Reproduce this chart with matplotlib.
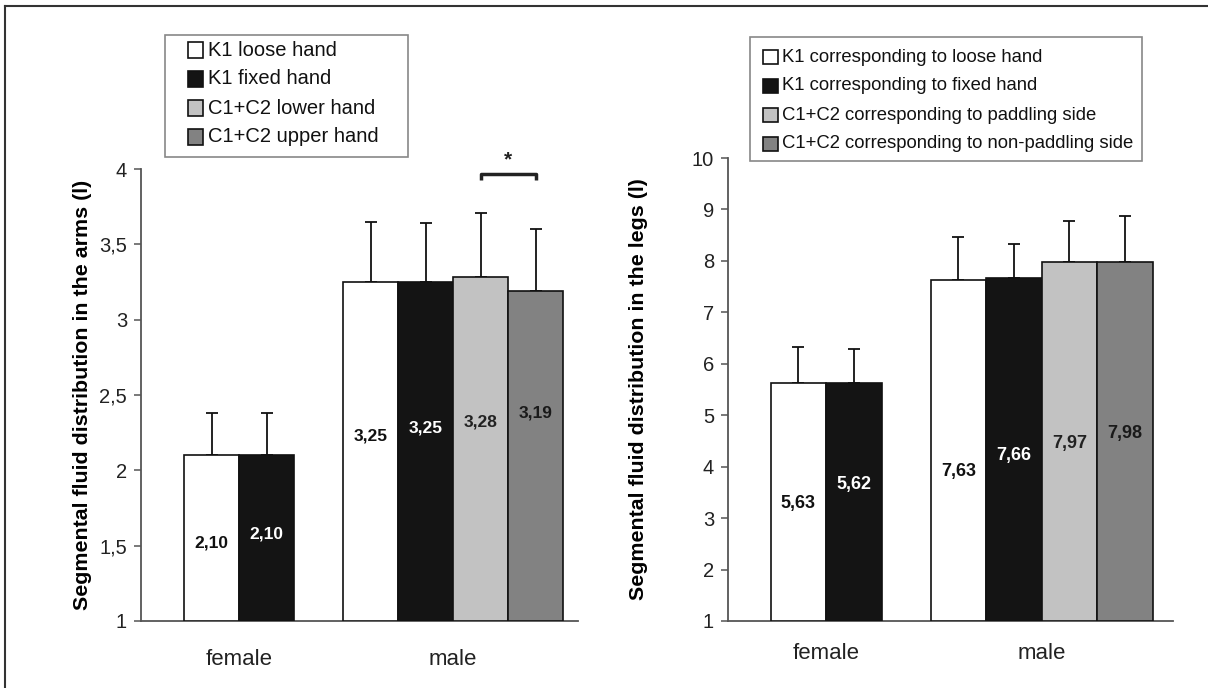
import numpy as np
import matplotlib
matplotlib.use("Agg")
import matplotlib.pyplot as plt
from matplotlib.patches import Rectangle
from matplotlib.lines import Line2D

plt.rcParams['font.family'] = ['Liberation Sans', 'DejaVu Sans']

# === DATA ===
groups = ["female", "male"]
colors = ["#ffffff", "#141414", "#c2c2c2", "#828282"]
text_colors = ["#111111", "#ffffff", "#222222", "#1a1a1a"]

arm_labels = ["K1 loose hand", "K1 fixed hand", "C1+C2 lower hand", "C1+C2 upper hand"]
arm_female = [2.10, 2.10]
arm_female_sd = [0.28, 0.28]
arm_male = [3.25, 3.25, 3.28, 3.19]
arm_male_sd = [0.40, 0.39, 0.43, 0.41]
arm_female_lbl_y = [1.52, 1.58]
arm_male_lbl_y = [2.23, 2.28, 2.32, 2.38]

leg_labels = ["K1 corresponding to loose hand", "K1 corresponding to fixed hand",
              "C1+C2 corresponding to paddling side",
              "C1+C2 corresponding to non-paddling side"]
leg_female = [5.63, 5.62]
leg_female_sd = [0.69, 0.67]
leg_male = [7.63, 7.66, 7.97, 7.98]
leg_male_sd = [0.84, 0.67, 0.81, 0.89]
leg_female_lbl_y = [3.28, 3.65]
leg_male_lbl_y = [3.90, 4.22, 4.45, 4.64]

W, H = 1208, 688
fig = plt.figure(figsize=(W / 100, H / 100), dpi=100)

# outer frame (top and left edges)
fig.add_artist(Line2D([5 / W, 5 / W], [0, 1 - 6 / H], color="#333333", lw=1.5))
fig.add_artist(Line2D([5 / W, 1], [1 - 6 / H, 1 - 6 / H], color="#333333", lw=1.5))


def fmt(v):
    return f"{v:.2f}".replace(".", ",")


def draw_panel(ax, female, female_sd, male, male_sd, f_lbl_y, m_lbl_y,
               ylim, yticks, ylabel, xlim, width, lbl_size, lbl_x, cat_pad):
    f_off = np.array([-0.5, 0.5]) * width
    m_off = np.array([-1.5, -0.5, 0.5, 1.5]) * width
    f_x = 0 + f_off
    m_x = 1 + m_off
    base = ylim[0]
    for i in range(2):
        ax.bar(f_x[i], female[i] - base, width, bottom=base, color=colors[i],
               edgecolor="#111111", linewidth=1.2, zorder=3)
        ax.text(f_x[i], f_lbl_y[i], fmt(female[i]), ha="center", va="center",
                fontsize=lbl_size, fontweight="bold", color=text_colors[i], zorder=5)
    for i in range(4):
        ax.bar(m_x[i], male[i] - base, width, bottom=base, color=colors[i],
               edgecolor="#111111", linewidth=1.2, zorder=3)
        ax.text(m_x[i], m_lbl_y[i], fmt(male[i]), ha="center", va="center",
                fontsize=lbl_size, fontweight="bold", color=text_colors[i], zorder=5)
    ax.errorbar(f_x, female, yerr=[np.zeros(2), female_sd], fmt="none",
                ecolor="#111111", elinewidth=1.3, capsize=4, capthick=1.3, zorder=2)
    ax.errorbar(m_x, male, yerr=[np.zeros(4), male_sd], fmt="none",
                ecolor="#111111", elinewidth=1.3, capsize=4, capthick=1.3, zorder=2)

    ax.set_xlim(*xlim)
    ax.set_ylim(*ylim)
    ax.set_yticks(yticks)
    ax.set_yticklabels([f"{t:g}".replace(".", ",") for t in yticks])
    ax.set_xticks([0, 1])
    ax.set_xticklabels(groups, fontsize=16)
    ax.tick_params(axis="x", length=0, pad=cat_pad, colors="#222222")
    ax.tick_params(axis="y", length=5, width=1.1, pad=5, labelsize=14.5,
                   colors="#555555", labelcolor="#222222")
    for s in ("top", "right"):
        ax.spines[s].set_visible(False)
    for s in ("left", "bottom"):
        ax.spines[s].set_color("#555555")
        ax.spines[s].set_linewidth(1.3)
    ax.set_ylabel(ylabel, fontsize=15.4, fontweight="bold", va="center")
    ax.yaxis.set_label_coords(lbl_x, 0.5)
    return m_x


def draw_key(x0, y0, x1, y1, labels, rows, sq_x, sq, txt_x, fs):
    fig.add_artist(Rectangle((x0 / W, 1 - y1 / H), (x1 - x0) / W, (y1 - y0) / H,
                             transform=fig.transFigure, facecolor="white",
                             edgecolor="#888888", lw=1.2))
    for lab, c, ry in zip(labels, colors, rows):
        fig.add_artist(Rectangle((sq_x / W, 1 - (ry + sq / 2) / H), sq / W, sq / H,
                                 transform=fig.transFigure, facecolor=c,
                                 edgecolor="#111111", lw=1.2))
        fig.text(txt_x / W, 1 - ry / H, lab, fontsize=fs, va="center", ha="left",
                 color="#111111")


# === ARMS PANEL ===
ax1 = fig.add_axes([141 / W, 1 - 621 / H, 437 / W, 452 / H])
m1 = draw_panel(ax1, arm_female, arm_female_sd, arm_male, arm_male_sd,
                arm_female_lbl_y, arm_male_lbl_y, (1, 4), [1, 1.5, 2, 2.5, 3, 3.5, 4],
                "Segmental fluid distribution in the arms (l)",
                (-0.458, 1.584), 0.257, 12.5, -0.135, 20)

# significance bracket between lower and upper hand
bx = [m1[2], m1[2], m1[3], m1[3]]
ax1.plot(bx, [3.93, 3.97, 3.97, 3.93], color="#222222", lw=2.5, clip_on=False,
         solid_capstyle="butt", zorder=6)
ax1.text((m1[2] + m1[3]) / 2, 4.06, "*", ha="center", va="center", fontsize=15,
         fontweight="bold", color="#222222")

# === LEGS PANEL ===
ax2 = fig.add_axes([728 / W, 1 - 621 / H, 445 / W, 463 / H])
draw_panel(ax2, leg_female, leg_female_sd, leg_male, leg_male_sd,
           leg_female_lbl_y, leg_male_lbl_y, (1, 10), list(range(1, 11)),
           "Segmental fluid distribution in the legs (l)",
           (-0.455, 1.61), 0.2575, 13, -0.2, 16)

# === KEYS ===
draw_key(165, 35, 408, 157, arm_labels, [50, 79, 108, 137], 187.5, 15, 208, 14.5)
draw_key(750, 37, 1142, 161, leg_labels, [57, 86, 115, 144], 763, 14.5, 782, 13.3)

fig.savefig("out.png", dpi=100)
